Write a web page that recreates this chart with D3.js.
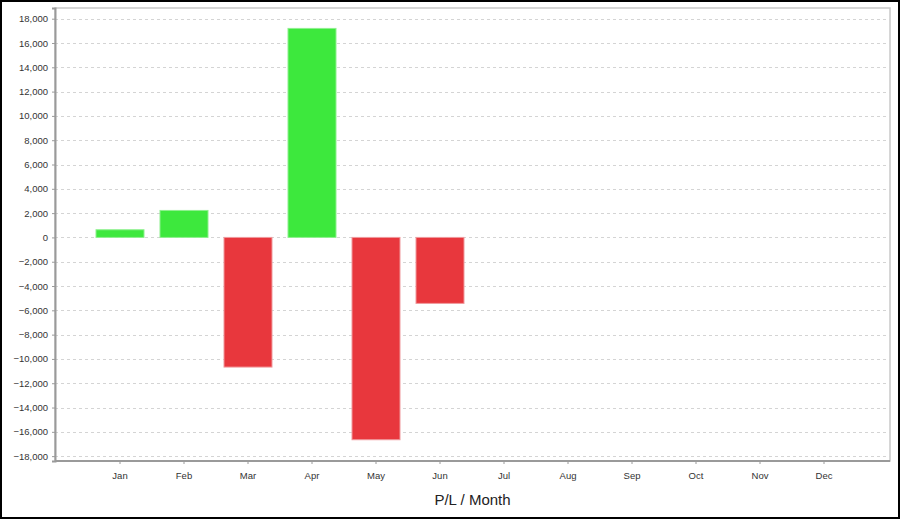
<!DOCTYPE html>
<html><head><meta charset="utf-8">
<script src="https://cdn.jsdelivr.net/npm/d3@7"></script>
<style>body{margin:0;background:#fff}svg{display:block}</style>
</head><body>
<script>
const months = ["Jan","Feb","Mar","Apr","May","Jun","Jul","Aug","Sep","Oct","Nov","Dec"];
const pl = [630, 2220, -10670, 17200, -16650, -5430, null, null, null, null, null, null];
const yTicks = [-18000,-16000,-14000,-12000,-10000,-8000,-6000,-4000,-2000,0,2000,4000,6000,8000,10000,12000,14000,16000,18000];
const title = "P/L / Month";

const W = 900, H = 519;
const svg = d3.select("body").append("svg").attr("width", W).attr("height", H);
svg.append("rect").attr("x",1).attr("y",1).attr("width",W-2).attr("height",H-2)
  .attr("fill","#fff").attr("stroke","#000").attr("stroke-width",2);

const L = 55, R = 890, T = 8, B = 461;
const y = d3.scaleLinear().domain([-18400, 18880]).range([B, T]);
const x = d3.scaleBand().domain(months).range([88, 856]).paddingInner(0.25).paddingOuter(0.125);

// plot border
svg.append("rect").attr("x",L).attr("y",T).attr("width",R-L).attr("height",B-T)
  .attr("fill","#fff").attr("stroke","#c8c8c8").attr("stroke-width",1.5);

// grid
svg.append("g").selectAll("line").data(yTicks).join("line")
  .attr("x1",L).attr("x2",R).attr("y1",d=>Math.round(y(d))+0.5).attr("y2",d=>Math.round(y(d))+0.5)
  .attr("stroke","#d4d4d4").attr("stroke-dasharray","3,3").attr("stroke-width",1);

// bars
svg.append("g").selectAll("rect").data(months.map((m,i)=>({m,v:pl[i]})).filter(d=>d.v!==null)).join("rect")
  .attr("x",d=>x(d.m)).attr("width",x.bandwidth())
  .attr("y",d=>y(Math.max(0,d.v))).attr("height",d=>Math.abs(y(d.v)-y(0)))
  .attr("fill",d=>d.v>=0?"#3de83d":"#e8373d")
  .attr("stroke",d=>d.v>=0?"#8ef08e":"#f09a9d").attr("stroke-width",1);

// y axis
const ya = svg.append("g").attr("transform",`translate(${L},0)`)
  .call(d3.axisLeft(y).tickValues(yTicks).tickSize(3).tickPadding(4).tickFormat(d3.format(",")));
ya.select(".domain").attr("stroke","#9a9a9a").attr("stroke-width",2);
ya.selectAll(".tick line").attr("stroke","#9a9a9a");
ya.selectAll("text").attr("font-family","Arial, 'Liberation Sans', sans-serif").attr("font-size",9.5).attr("fill","#333");

// x axis
const xa = svg.append("g").attr("transform",`translate(0,${B})`)
  .call(d3.axisBottom(x).tickSize(3).tickPadding(8).tickSizeOuter(0));
xa.select(".domain").attr("d",`M${L},0H${R}`).attr("stroke","#9a9a9a").attr("stroke-width",2);
xa.selectAll(".tick line").attr("stroke","#9a9a9a");
xa.selectAll("text").attr("font-family","Arial, 'Liberation Sans', sans-serif").attr("font-size",9.5).attr("fill","#333");

svg.append("text").attr("x",(L+R)/2).attr("y",505).attr("text-anchor","middle")
  .attr("font-family","Arial, 'Liberation Sans', sans-serif").attr("font-size",15).attr("fill","#222").text(title);
</script>
</body></html>
